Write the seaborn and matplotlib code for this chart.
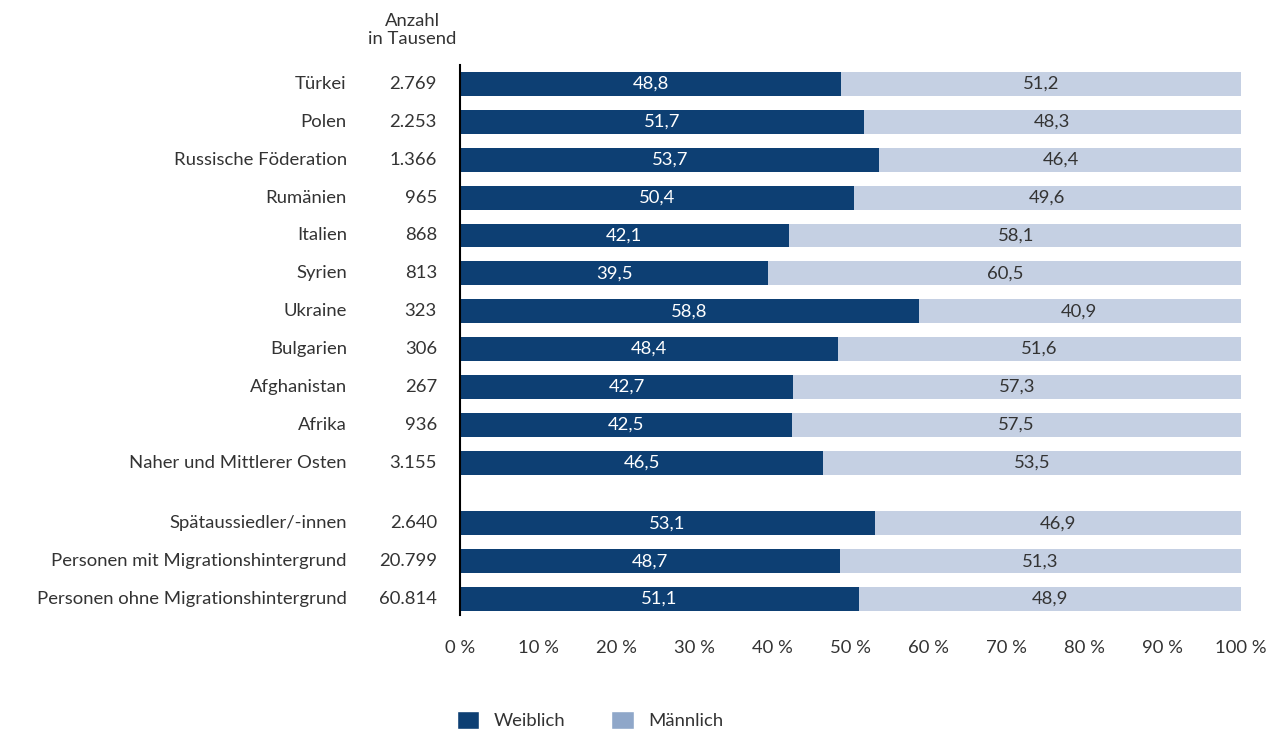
import matplotlib
matplotlib.use("Agg")
import matplotlib.pyplot as plt
from matplotlib.patches import Patch
import seaborn as sns
import pandas as pd

categories = ["Türkei", "Polen", "Russische Föderation", "Rumänien", "Italien", "Syrien",
              "Ukraine", "Bulgarien", "Afghanistan", "Afrika", "Naher und Mittlerer Osten",
              "Spätaussiedler/-innen", "Personen mit Migrationshintergrund",
              "Personen ohne Migrationshintergrund"]
anzahl = ["2.769", "2.253", "1.366", "965", "868", "813", "323", "306", "267", "936",
          "3.155", "2.640", "20.799", "60.814"]
weiblich = [48.8, 51.7, 53.7, 50.4, 42.1, 39.5, 58.8, 48.4, 42.7, 42.5, 46.5, 53.1, 48.7, 51.1]
maennlich = [51.2, 48.3, 46.4, 49.6, 58.1, 60.5, 40.9, 51.6, 57.3, 57.5, 53.5, 46.9, 51.3, 48.9]
xticks = [0, 10, 20, 30, 40, 50, 60, 70, 80, 90, 100]

sns.set_theme(style="white")
plt.rcParams["font.family"] = ["Lato", "DejaVu Sans"]

C_F = "#0d3f73"
C_M = "#c5d0e3"
C_ML = "#8fa7c9"
TXT = "#333333"
FS = 13.3

pos = [float(i) for i in range(11)] + [11.6, 12.6, 13.6]
df = pd.DataFrame({"pos": pos, "f": weiblich, "m": maennlich})
# 100 % stacked: the light segment fills the share up to 100 %
df["total"] = 100 * (df["f"] + df["m"]) / (df["f"] + df["m"])

fig = plt.figure(figsize=(12.86, 7.34), dpi=100)
ax = fig.add_axes([0.3577, 0.1621, 0.965 - 0.3577, 0.9114 - 0.1621])

sns.barplot(data=df, x="total", y="pos", orient="h", native_scale=True, color=C_M,
            saturation=1, width=0.63, ax=ax, linewidth=0)
sns.barplot(data=df, x="f", y="pos", orient="h", native_scale=True, color=C_F,
            saturation=1, width=0.63, ax=ax, linewidth=0)

ax.set_ylim(14.02, -0.5)
ax.set_xlim(0, 100)
ax.set_xlabel("")
ax.set_ylabel("")
ax.set_yticks([])
ax.set_xticks(xticks)
ax.set_xticklabels([f"{t} %" for t in xticks], fontsize=FS, color=TXT)
ax.tick_params(axis="x", length=0, pad=18)
for s in ["top", "right", "bottom"]:
    ax.spines[s].set_visible(False)
ax.spines["left"].set_color("black")
ax.spines["left"].set_linewidth(1.5)

for p, f, m in zip(pos, weiblich, maennlich):
    ax.text(f / 2, p, f"{f:.1f}".replace(".", ","), ha="center", va="center",
            color="white", fontsize=FS)
    ax.text(f + m / 2, p, f"{m:.1f}".replace(".", ","), ha="center", va="center",
            color=TXT, fontsize=FS)

trans = ax.get_yaxis_transform()
for p, c in zip(pos, categories):
    ax.text(-0.145, p, c, transform=trans, ha="right", va="center",
            fontsize=FS, color=TXT)
for p, a in zip(pos, anzahl):
    ax.text(-0.0295, p, a, transform=trans, ha="right", va="center",
            fontsize=FS, color=TXT)

fig.text(412 / 1286, 1 - 30 / 734, "Anzahl\nin Tausend", ha="center", va="center",
         fontsize=FS, color=TXT, linespacing=1.2)

handles = [Patch(facecolor=C_F, label="Weiblich"), Patch(facecolor=C_ML, label="Männlich")]
fig.legend(handles=handles, loc="center", bbox_to_anchor=(590 / 1286, 1 - 720 / 734),
           ncol=2, frameon=False, fontsize=FS, handlelength=1.2, handleheight=1.2,
           columnspacing=2.5, handletextpad=0.8, labelcolor=TXT)

fig.savefig("out.png", dpi=100)
